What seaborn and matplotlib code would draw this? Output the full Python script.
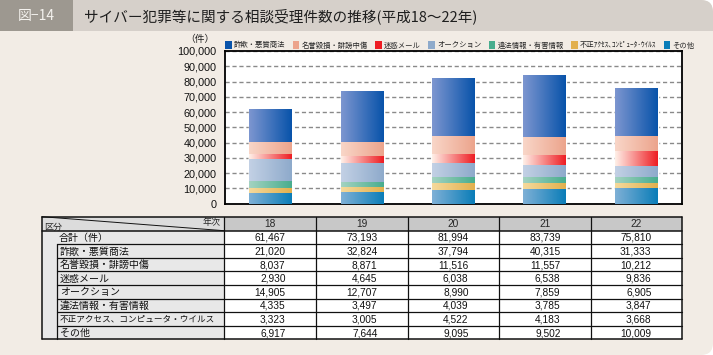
import numpy as np
import pandas as pd
import matplotlib
matplotlib.use('Agg')
import matplotlib.pyplot as plt
from matplotlib.patches import Rectangle, FancyBboxPatch
from matplotlib.colors import LinearSegmentedColormap
import seaborn as sns

# data (平成18-22年)
years = ['18', '19', '20', '21', '22']
totals = [61467, 73193, 81994, 83739, 75810]
fraud = [21020, 32824, 37794, 40315, 31333]
defame = [8037, 8871, 11516, 11557, 10212]
spam = [2930, 4645, 6038, 6538, 9836]
auction = [14905, 12707, 8990, 7859, 6905]
illegal = [4335, 3497, 4039, 3785, 3847]
access = [3323, 3005, 4522, 4183, 3668]
other = [6917, 7644, 9095, 9502, 10009]

series = [fraud, defame, spam, auction, illegal, access, other]
legend_labels = ['詐欺・悪質商法', '名誉毀損・誹謗中傷', '迷惑メール', 'オークション',
                 '違法情報・有害情報', '不正ｱｸｾｽ､ｺﾝﾋﾟｭｰﾀ･ｳｲﾙｽ', 'その他']
row_labels = ['合計（件）', '詐欺・悪質商法', '名誉毀損・誹謗中傷', '迷惑メール', 'オークション',
              '違法情報・有害情報', '不正アクセス、コンピュータ・ウイルス', 'その他']

# gradient colours (left, right)
grads = [('#7d96d0', '#0853aa'), ('#f9d6c8', '#eca48c'), ('#fff0e8', '#ee1d23'),
         ('#c3d1e5', '#8eaacb'), ('#a4d3c1', '#48ad8e'), ('#f5da9c', '#e2b04e'),
         ('#7fb0d6', '#0a7db8')]

sns.set_theme(style='white')
plt.rcParams['font.family'] = ['Noto Sans CJK JP', 'DejaVu Sans']
num_font = 'Liberation Sans'

fig = plt.figure(figsize=(7.13, 3.55), dpi=100)
fig.patch.set_facecolor('white')

# background / title band
bg = fig.add_axes([0, 0, 1, 1], zorder=0)
bg.set_xlim(0, 713)
bg.set_ylim(355, 0)
bg.axis('off')
bg.add_patch(FancyBboxPatch((0, 0), 713, 355, boxstyle='round,pad=0,rounding_size=12',
                            fc='#f2ece5', ec='none'))
bg.add_patch(Rectangle((0, 300), 60, 55, fc='#f2ece5', ec='none'))
bg.add_patch(FancyBboxPatch((0, 0), 713, 31, boxstyle='round,pad=0,rounding_size=12',
                            fc='#d6d0ca', ec='none'))
bg.add_patch(Rectangle((600, 16), 113, 15, fc='#d6d0ca', ec='none'))
bg.add_patch(Rectangle((0, 0), 73, 31, fc='#9d9890', ec='none'))
bg.text(36.5, 16, '図−14', color='#f4f2ee', fontsize=10, ha='center', va='center')
bg.text(84, 16, 'サイバー犯罪等に関する相談受理件数の推移(平成18〜22年)',
        color='#1e1e1e', fontsize=10.5, ha='left', va='center')
bg.text(200, 39, '（件）', fontsize=7, ha='center', va='center', color='#222222')

# table
col_edges = [42, 224, 316, 408, 499, 591, 682]
row_edges = [216.7] + list(np.linspace(230.7, 339.3, 9))
bg.add_patch(Rectangle((42, row_edges[0]), 182, row_edges[1] - row_edges[0], fc='#dcdcdc', ec='none'))
bg.add_patch(Rectangle((224, row_edges[0]), 458, row_edges[1] - row_edges[0], fc='#c8c8c8', ec='none'))
bg.add_patch(Rectangle((42, row_edges[1]), 182, row_edges[-1] - row_edges[1], fc='#e8e8e8', ec='none'))
bg.add_patch(Rectangle((224, row_edges[1]), 458, row_edges[-1] - row_edges[1], fc='white', ec='none'))
lc = '#111111'
for i, y in enumerate(row_edges):
    if 2 <= i <= 8:
        bg.plot([56.5, 224], [y, y], color=lc, lw=0.9)
        bg.plot([224, 682], [y, y], color=lc, lw=0.9)
    else:
        bg.plot([42, 682], [y, y], color=lc, lw=1.1)
for x in col_edges:
    lw = 1.1 if x in (42, 682) else 0.9
    bg.plot([x, x], [row_edges[0], row_edges[-1]], color=lc, lw=lw)
bg.plot([56.5, 56.5], [row_edges[2], row_edges[-1]], color=lc, lw=0.9)
bg.plot([42, 224], [row_edges[0], row_edges[1]], color=lc, lw=0.7)
bg.text(44, 227, '区分', fontsize=6.5, ha='left', va='center')
bg.text(221, 222.5, '年次', fontsize=6.5, ha='right', va='center')

table_rows = [totals] + series
for r, (lab, vals) in enumerate(zip(row_labels, table_rows)):
    yc = (row_edges[r + 1] + row_edges[r + 2]) / 2
    fs = 6.2 if len(lab) > 12 else 7.2
    bg.text(59 if r == 0 else 60, yc + 0.3, lab, fontsize=fs, ha='left', va='center', color='#111111')
    for c, v in enumerate(vals):
        bg.text(col_edges[c + 2] - 30.5, yc + 0.5, f'{v:,}', fontsize=7.3, ha='right', va='center',
                family=num_font, color='#111111')
for c, yr in enumerate(years):
    bg.text((col_edges[c + 1] + col_edges[c + 2]) / 2, 224, yr, fontsize=7.3, ha='center',
            va='center', family=num_font)

# chart
ax = fig.add_axes([225 / 713, 1 - 203.6 / 355, 457 / 713, (203.6 - 51) / 355], zorder=2)
ax.set_facecolor('white')

stack = series[::-1]  # bottom -> top
grads_up = grads[::-1]
df = pd.DataFrame({'year': years})
cum = np.zeros(len(years))
tops = []
for vals in stack:
    cum = cum + np.array(vals)
    tops.append(cum.copy())
for i, t in enumerate(tops):
    df[f'top{i}'] = t

bar_w = 0.47
for i in reversed(range(len(tops))):
    sns.barplot(data=df, x='year', y=f'top{i}', color=grads_up[i][1], saturation=1,
                width=bar_w, errorbar=None, ax=ax, zorder=2)

grad = np.linspace(0, 1, 128).reshape(1, -1)
for i in range(len(tops)):
    cmap = LinearSegmentedColormap.from_list(f'g{i}', list(grads_up[i]))
    for j in range(len(years)):
        bottom = tops[i - 1][j] if i > 0 else 0
        x0 = j - bar_w / 2
        ax.imshow(grad, cmap=cmap, aspect='auto', extent=(x0, x0 + bar_w, bottom, tops[i][j]),
                  zorder=3, interpolation='bilinear')

ax.set_xlim(-0.5, 4.5)
ax.set_ylim(0, 100000)
ax.set_yticks(range(0, 100001, 10000))
ax.set_yticklabels([f'{v:,}' for v in range(0, 100001, 10000)], family=num_font, fontsize=7.8)
ax.set_xticks([0.5, 1.5, 2.5, 3.5], labels=[])
ax.tick_params(axis='x', direction='in', length=4, width=1.3, color='black')
ax.tick_params(axis='y', length=0, pad=6, labelcolor='#111111')
ax.set_xlabel('')
ax.set_ylabel('')
ax.grid(axis='y', color='#8a8a8a', lw=1, ls=(0, (3, 2)))
ax.set_axisbelow(True)
for s in ax.spines.values():
    s.set_visible(True)
    s.set_color('black')
    s.set_linewidth(1.3)

handles = [Rectangle((0, 0), 1, 1, fc=g[1], ec='none') for g in grads]
leg = ax.legend(handles, legend_labels, ncol=7, loc='lower left', bbox_to_anchor=(0, 1.01),
                frameon=False, fontsize=5.3, handlelength=0.9, handleheight=1.1,
                handletextpad=0.3, columnspacing=1.0, borderaxespad=0, borderpad=0)

fig.savefig('out.png', dpi=100, facecolor=fig.get_facecolor())
